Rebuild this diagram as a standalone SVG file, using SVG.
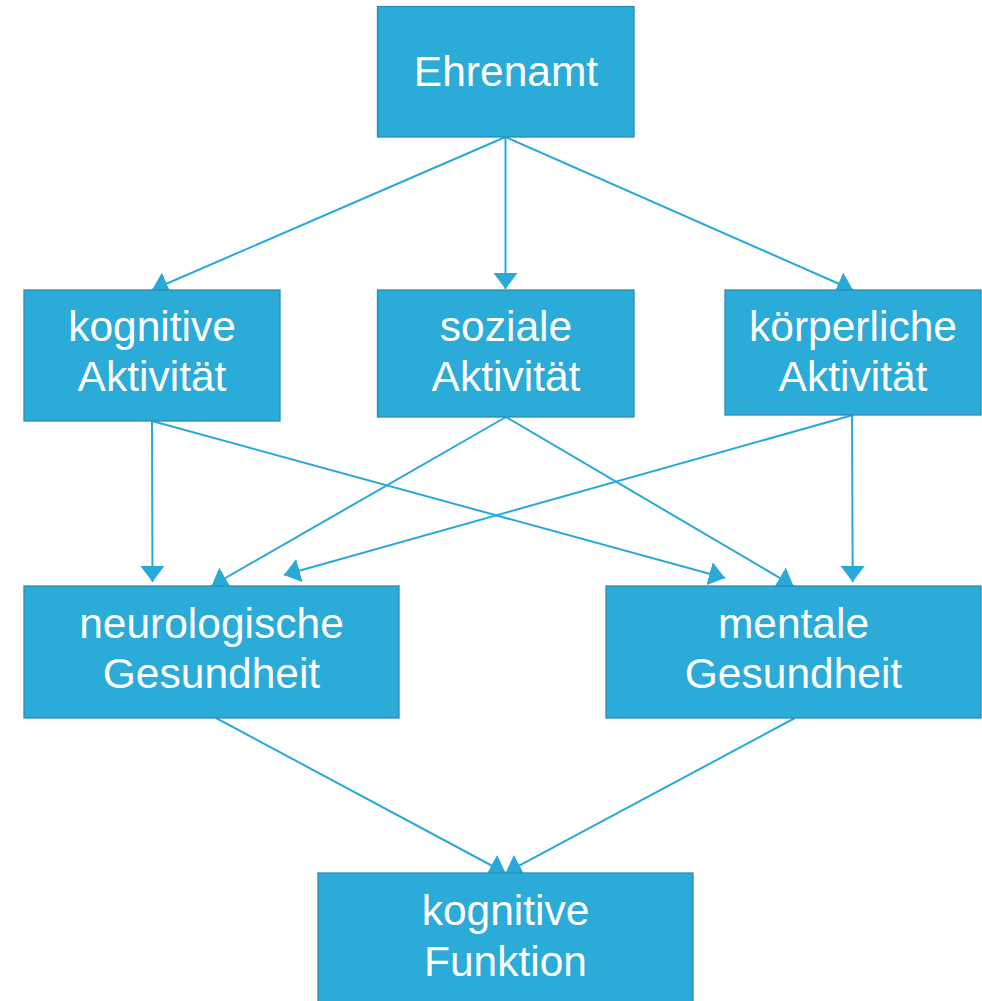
<svg xmlns="http://www.w3.org/2000/svg" width="982" height="1001" viewBox="0 0 982 1001">
<style>
.box{fill:#2aabd8;stroke:#2b8db5;stroke-width:1.3}
.lbl{font-family:"Liberation Sans",Arial,sans-serif;font-size:42.5px;fill:#ffffff;text-anchor:middle}
.con{stroke:#29a9d8;stroke-width:2;fill:none;marker-end:url(#ah)}
</style>
<defs>
<marker id="ah" markerUnits="userSpaceOnUse" markerWidth="16" markerHeight="24" viewBox="0 0 16 24" refX="16" refY="12" orient="auto">
<path d="M0,0 L16,12 L0,24 Z" fill="#29a9d8"/>
</marker>
</defs>
<rect width="982" height="1001" fill="#ffffff"/>
<g id="connectors">
<line class="con" x1="505.5" y1="137" x2="152" y2="290"/>
<line class="con" x1="505.5" y1="137" x2="505.5" y2="289"/>
<line class="con" x1="505.5" y1="137" x2="853" y2="290"/>
<line class="con" x1="152" y1="421" x2="152.5" y2="582"/>
<line class="con" x1="152" y1="421" x2="725" y2="578"/>
<line class="con" x1="506" y1="417" x2="211.5" y2="586"/>
<line class="con" x1="506" y1="417" x2="793.5" y2="586"/>
<line class="con" x1="853" y1="415" x2="284" y2="575"/>
<line class="con" x1="852" y1="415" x2="852.7" y2="582"/>
<line class="con" x1="216" y1="718" x2="505.5" y2="873"/>
<line class="con" x1="795" y1="718" x2="505.5" y2="873"/>
</g>
<g id="ehrenamt">
<rect class="box" x="377.5" y="6.5" width="256.5" height="130.5"/>
<text class="lbl" x="506" y="86">Ehrenamt</text>
</g>
<g id="kognitive-aktivitaet">
<rect class="box" x="24" y="290" width="256" height="131"/>
<text class="lbl" x="152" y="341">kognitive</text>
<text class="lbl" x="152" y="391">Aktivität</text>
</g>
<g id="soziale-aktivitaet">
<rect class="box" x="377.5" y="290" width="256.5" height="127"/>
<text class="lbl" x="506" y="341">soziale</text>
<text class="lbl" x="506" y="391">Aktivität</text>
</g>
<g id="koerperliche-aktivitaet">
<rect class="box" x="725" y="290" width="256" height="125"/>
<text class="lbl" x="853" y="341">körperliche</text>
<text class="lbl" x="853" y="391">Aktivität</text>
</g>
<g id="neurologische-gesundheit">
<rect class="box" x="24" y="586" width="375" height="132"/>
<text class="lbl" x="211.5" y="638">neurologische</text>
<text class="lbl" x="211.5" y="688">Gesundheit</text>
</g>
<g id="mentale-gesundheit">
<rect class="box" x="606" y="586" width="375" height="132"/>
<text class="lbl" x="793.5" y="638">mentale</text>
<text class="lbl" x="793.5" y="688">Gesundheit</text>
</g>
<g id="kognitive-funktion">
<rect class="box" x="318" y="873" width="375" height="140"/>
<text class="lbl" x="505.5" y="925">kognitive</text>
<text class="lbl" x="505.5" y="976">Funktion</text>
</g>
</svg>
